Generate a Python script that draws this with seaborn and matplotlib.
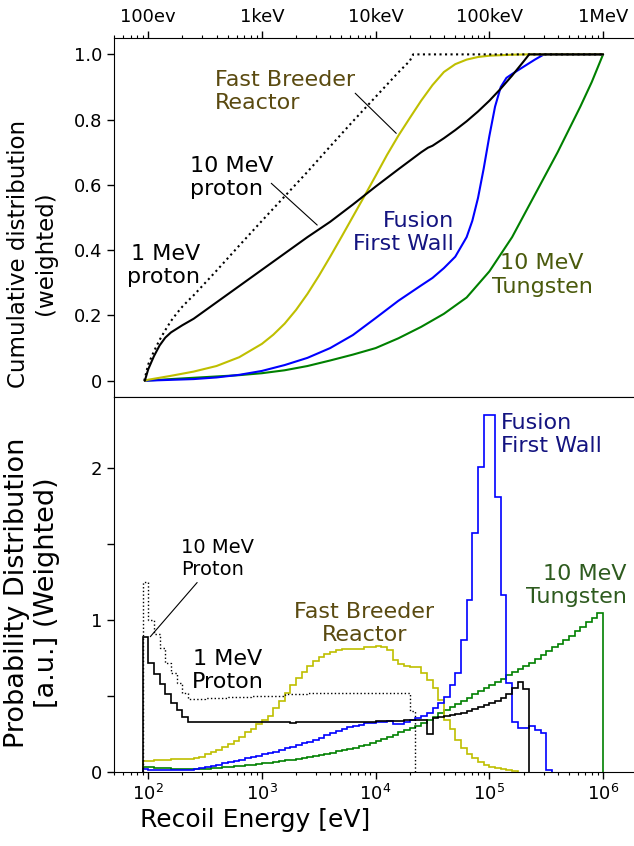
import numpy as np
import matplotlib
matplotlib.use("Agg")
import matplotlib.pyplot as plt
from matplotlib.ticker import LogLocator, NullFormatter
import seaborn as sns

sns.set_style("ticks")
plt.rcParams['font.family'] = ['DejaVu Sans']
plt.rcParams.update({'text.color': 'black', 'axes.labelcolor': 'black',
                     'xtick.color': 'black', 'ytick.color': 'black',
                     'axes.edgecolor': 'black'})

# ---------------- data ----------------
# histogram bins: 20 per decade, 10^1.95 ... 10^6 eV
edges = np.logspace(1.95, 6.0, 82)

hist_10mev_proton = [0.89, 0.72, 0.645, 0.58, 0.51, 0.455, 0.405, 0.365,
                     0.33, 0.33, 0.33, 0.33, 0.33, 0.33, 0.33, 0.33, 0.33, 0.33,
                     0.33, 0.33, 0.33, 0.33, 0.33, 0.33, 0.33, 0.33, 0.32, 0.33,
                     0.33, 0.33, 0.33, 0.33, 0.33, 0.33, 0.33, 0.33, 0.33, 0.33,
                     0.33, 0.33, 0.33, 0.333, 0.335, 0.335, 0.337, 0.337, 0.34,
                     0.34, 0.34, 0.34, 0.25, 0.353, 0.36, 0.366, 0.373, 0.381,
                     0.39, 0.40, 0.413, 0.425, 0.44, 0.455, 0.47, 0.49, 0.515,
                     0.55, 0.595, 0.545]

hist_1mev_proton = [1.25, 1.0, 0.905, 0.813, 0.72, 0.65, 0.583, 0.52,
                    0.478, 0.48, 0.482, 0.484, 0.486, 0.488, 0.49, 0.492, 0.494,
                    0.495, 0.496, 0.497, 0.498, 0.499, 0.50, 0.50, 0.502,
                    0.515, 0.515, 0.516, 0.516, 0.517, 0.517, 0.517, 0.517,
                    0.517, 0.517, 0.517, 0.517, 0.517, 0.517, 0.517, 0.517,
                    0.517, 0.517, 0.517, 0.517, 0.517, 0.517, 0.40]

hist_fast_breeder = [0.07, 0.075, 0.078, 0.08, 0.082, 0.084, 0.085, 0.086, 0.088, 0.09,
                     0.10, 0.115, 0.13, 0.145, 0.165, 0.185, 0.205, 0.23, 0.26, 0.285,
                     0.315, 0.345, 0.37, 0.42, 0.47, 0.52, 0.575, 0.62, 0.66, 0.70,
                     0.73, 0.755, 0.775, 0.79, 0.80, 0.81, 0.807, 0.807, 0.81, 0.82,
                     0.825, 0.83, 0.825, 0.80, 0.74, 0.71, 0.70, 0.69, 0.69, 0.65,
                     0.605, 0.55, 0.475, 0.34, 0.28, 0.21, 0.16, 0.12, 0.09, 0.068,
                     0.046, 0.035, 0.025, 0.018, 0.012, 0.008]

hist_fusion_wall = [0.018, 0.016, 0.015, 0.014, 0.014, 0.014, 0.014, 0.015, 0.016,
                    0.02, 0.025, 0.032, 0.04, 0.048, 0.056, 0.064, 0.072, 0.08, 0.09,
                    0.098, 0.107, 0.116, 0.125, 0.134, 0.143, 0.155, 0.166, 0.178, 0.19,
                    0.20, 0.21, 0.225, 0.24, 0.255, 0.27, 0.283, 0.295, 0.303, 0.312,
                    0.32, 0.325, 0.33, 0.332, 0.334, 0.316, 0.316, 0.33, 0.342, 0.355,
                    0.37, 0.39, 0.419, 0.452, 0.496, 0.572, 0.649, 0.868, 1.132, 1.57,
                    2.009, 2.349, 2.349, 1.81, 1.164, 0.583, 0.331, 0.287, 0.287, 0.303,
                    0.276, 0.259, 0.015]

hist_tungsten = [0.035, 0.032, 0.029, 0.026, 0.024, 0.022, 0.02, 0.019, 0.019, 0.019,
                 0.02, 0.022, 0.024, 0.027, 0.03, 0.034, 0.037, 0.041, 0.045, 0.049,
                 0.053, 0.057, 0.062, 0.067, 0.072, 0.077, 0.082, 0.088, 0.094, 0.10,
                 0.106, 0.113, 0.12, 0.127, 0.135, 0.143, 0.152, 0.161, 0.17, 0.18,
                 0.19, 0.205, 0.218, 0.232, 0.246, 0.26, 0.275, 0.29, 0.305, 0.32,
                 0.345, 0.365, 0.385, 0.405, 0.425, 0.445, 0.465, 0.49, 0.51, 0.53,
                 0.55, 0.575, 0.595, 0.615, 0.635, 0.655, 0.675, 0.70, 0.72, 0.745,
                 0.77, 0.795, 0.82, 0.845, 0.87, 0.895, 0.925, 0.955, 0.985, 1.015,
                 1.048]

# cumulative curves (log10 of energy in eV, fraction)
cum_10mev_logE = [1.97, 2.0, 2.05, 2.1, 2.15, 2.2, 2.3, 2.4, 2.6, 2.8, 3.0, 3.2, 3.4,
                  3.6, 3.8, 4.0, 4.2, 4.4, 4.46, 4.5, 4.6, 4.7, 4.8, 4.9, 5.0, 5.1,
                  5.2, 5.3, 5.35, 6.0]
cum_10mev = [0.0, 0.035, 0.075, 0.108, 0.132, 0.148, 0.17, 0.19, 0.24, 0.29, 0.34,
             0.39, 0.44, 0.487, 0.54, 0.595, 0.648, 0.70, 0.714, 0.72, 0.743, 0.768,
             0.795, 0.825, 0.858, 0.895, 0.935, 0.978, 1.0, 1.0]

cum_1mev_logE = [1.965, 2.0, 2.05, 2.1, 2.15, 2.2, 2.25, 2.3, 2.35, 2.4, 2.6, 2.8,
                 3.0, 3.2, 3.4, 3.6, 3.8, 4.0, 4.2, 4.3, 4.33, 6.0]
cum_1mev = [0.0, 0.05, 0.09, 0.125, 0.155, 0.183, 0.206, 0.227, 0.245, 0.262, 0.337,
            0.414, 0.49, 0.565, 0.64, 0.718, 0.795, 0.87, 0.945, 0.98, 1.0, 1.0]

cum_fbr_logE = [1.97, 2.0, 2.2, 2.4, 2.6, 2.8, 3.0, 3.1, 3.2, 3.3, 3.4, 3.5, 3.6,
                3.7, 3.8, 3.9, 4.0, 4.1, 4.2, 4.3, 4.4, 4.5, 4.6, 4.7, 4.8, 4.9,
                5.0, 5.2, 5.35, 6.0]
cum_fbr = [0.0, 0.003, 0.015, 0.028, 0.045, 0.072, 0.113, 0.141, 0.175, 0.217,
           0.266, 0.321, 0.38, 0.441, 0.503, 0.565, 0.628, 0.692, 0.751, 0.805,
           0.858, 0.906, 0.946, 0.97, 0.984, 0.992, 0.996, 0.999, 1.0, 1.0]

cum_ffw_logE = [1.97, 2.4, 2.6, 2.8, 3.0, 3.2, 3.4, 3.6, 3.8, 4.0, 4.2, 4.4, 4.5,
                4.6, 4.7, 4.75, 4.8, 4.85, 4.9, 4.95, 5.0, 5.05, 5.1, 5.15, 5.2,
                5.3, 5.4, 5.48, 6.0]
cum_ffw = [0.0, 0.005, 0.01, 0.018, 0.03, 0.048, 0.07, 0.1, 0.14, 0.192, 0.245,
           0.292, 0.315, 0.345, 0.38, 0.41, 0.44, 0.49, 0.56, 0.65, 0.75, 0.84,
           0.9, 0.928, 0.94, 0.962, 0.984, 1.0, 1.0]

cum_w_logE = [1.97, 2.2, 2.5, 2.8, 3.0, 3.2, 3.4, 3.6, 3.8, 4.0, 4.2, 4.4, 4.6,
              4.8, 5.0, 5.2, 5.4, 5.6, 5.8, 5.9, 6.0]
cum_w = [0.0, 0.005, 0.011, 0.017, 0.023, 0.032, 0.045, 0.062, 0.08, 0.10, 0.13,
         0.165, 0.205, 0.255, 0.335, 0.44, 0.57, 0.70, 0.84, 0.915, 1.0]

top_tick_labels = ['100ev', '1keV', '10keV', '100keV', '1MeV']
decades = [1e2, 1e3, 1e4, 1e5, 1e6]

c_fbr_text = '#5a4a10'
c_ffw_text = '#141480'
c_w_text_top = '#4a5a0c'
c_w_text_bot = '#2e5b1f'

# ---------------- figure ----------------
fig = plt.figure(figsize=(6.34, 8.46), dpi=100)
ax1 = fig.add_axes([0.1798, 0.5307, 0.8202, 0.4243])
ax2 = fig.add_axes([0.1798, 0.0875, 0.8202, 0.4432])

for ax in (ax1, ax2):
    ax.set_xscale('log')

# top: cumulative distributions
sns.lineplot(x=10 ** np.array(cum_w_logE), y=cum_w, ax=ax1, color='g', lw=1.5)
sns.lineplot(x=10 ** np.array(cum_ffw_logE), y=cum_ffw, ax=ax1, color='b', lw=1.5)
sns.lineplot(x=10 ** np.array(cum_fbr_logE), y=cum_fbr, ax=ax1, color='y', lw=1.5)
sns.lineplot(x=10 ** np.array(cum_1mev_logE), y=cum_1mev, ax=ax1, color='k', lw=1.5,
             linestyle=':')
sns.lineplot(x=10 ** np.array(cum_10mev_logE), y=cum_10mev, ax=ax1, color='k', lw=1.5)

# bottom: weighted probability distributions
ax2.stairs(hist_tungsten, edges[:len(hist_tungsten) + 1], baseline=0, color='g', lw=1.2)
ax2.stairs(hist_fast_breeder, edges[:len(hist_fast_breeder) + 1], baseline=0, color='y', lw=1.2)
ax2.stairs(hist_fusion_wall, edges[:len(hist_fusion_wall) + 1], baseline=0, color='b', lw=1.2)
ax2.stairs(hist_1mev_proton, edges[:len(hist_1mev_proton) + 1], baseline=0, color='k',
           lw=1.0, linestyle=':')
ax2.stairs(hist_10mev_proton, edges[:len(hist_10mev_proton) + 1], baseline=0, color='k', lw=1.2)

# axes
xlim = (50, 1.87e6)
ax1.set_xlim(*xlim)
ax2.set_xlim(*xlim)
ax1.set_ylim(-0.05, 1.05)
ax2.set_ylim(0, 2.467)

ax1.xaxis.tick_top()
ax1.set_xticks(decades)
ax1.set_xticklabels(top_tick_labels, fontsize=13)
ax1.xaxis.set_minor_locator(LogLocator(base=10, subs=np.arange(2, 10)))
ax1.xaxis.set_minor_formatter(NullFormatter())
ax1.set_yticks([0, 0.2, 0.4, 0.6, 0.8, 1.0])
ax1.set_yticklabels(['0', '0.2', '0.4', '0.6', '0.8', '1.0'], fontsize=13)

ax2.set_xticks(decades)
ax2.xaxis.set_minor_locator(LogLocator(base=10, subs=np.arange(2, 10)))
ax2.xaxis.set_minor_formatter(NullFormatter())
ax2.tick_params(axis='x', labelsize=13)
ax2.set_yticks([0, 0.5, 1, 1.5, 2])
ax2.set_yticklabels(['0', '', '1', '', '2'], fontsize=13)

for ax in (ax1, ax2):
    ax.spines['right'].set_visible(False)
    ax.tick_params(which='major', length=5, width=1)
    ax.tick_params(which='minor', length=2.5, width=0.8)

ax1.set_ylabel('Cumulative distribution\n(weighted)', fontsize=16.5,
               va='center', ha='center')
ax1.yaxis.set_label_coords(-0.158, 0.40)
ax2.set_ylabel('Probability Distribution\n[a.u.] (Weighted)', fontsize=19.5,
               va='center', ha='center')
ax2.yaxis.set_label_coords(-0.158, 0.477)
ax2.set_xlabel('Recoil Energy [eV]', fontsize=18, va='center')
ax2.xaxis.set_label_coords(0.271, -0.128)

line_style = dict(arrowstyle='-', color='k', lw=0.8, shrinkA=0, shrinkB=0)

# annotations, top panel
ax1.text(10 ** 2.589, 0.953, 'Fast Breeder\nReactor', color=c_fbr_text, fontsize=16,
         ha='left', va='top', multialignment='left')
ax1.annotate('', xy=(10 ** 4.181, 0.758), xytext=(10 ** 3.82, 0.881), arrowprops=line_style)
ax1.text(10 ** 2.369, 0.69, '10 MeV\nproton', fontsize=16, ha='left', va='top',
         multialignment='left')
ax1.annotate('', xy=(10 ** 3.486, 0.477), xytext=(10 ** 3.082, 0.605), arrowprops=line_style)
ax1.text(10 ** 2.457, 0.42, '1 MeV\nproton', fontsize=16, ha='right', va='top',
         multialignment='right')
ax1.text(10 ** 4.69, 0.52, 'Fusion\nFirst Wall', fontsize=16, color=c_ffw_text,
         ha='right', va='top', multialignment='right')
ax1.text(10 ** 5.465, 0.39, '10 MeV\nTungsten', fontsize=16, color=c_w_text_top,
         ha='center', va='top', multialignment='center')

# annotations, bottom panel
ax2.annotate('10 MeV\nProton', xy=(10 ** 2.018, 0.89), xytext=(10 ** 2.29, 1.268),
             color='k', fontsize=14, ha='left', va='bottom',
             arrowprops=line_style)
ax2.text(10 ** 2.7, 0.81, '1 MeV\nProton', fontsize=16, ha='center', va='top',
         multialignment='center')
ax2.text(10 ** 3.9, 1.12, 'Fast Breeder\nReactor', fontsize=16, color=c_fbr_text,
         ha='center', va='top', multialignment='center')
ax2.text(10 ** 5.1, 2.36, 'Fusion\nFirst Wall', fontsize=16, color=c_ffw_text,
         ha='left', va='top', multialignment='left')
ax2.text(10 ** 6.21, 1.37, '10 MeV\nTungsten', fontsize=16, color=c_w_text_bot,
         ha='right', va='top', multialignment='right')

fig.savefig('out.png', dpi=100)
